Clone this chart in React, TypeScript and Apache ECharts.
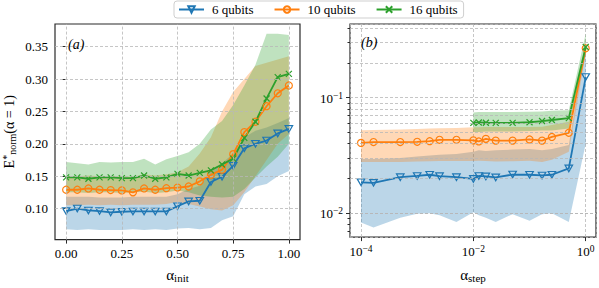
import React, { useEffect, useRef } from 'react';
import * as echarts from 'echarts';

const BLUE = '#1f77b4';
const ORANGE = '#ff7f0e';
const GREEN = '#2ca02c';
const FONT = 'Liberation Serif';

const seriesNames = ['6 qubits', '10 qubits', '16 qubits'];

// ---------- panel (a): alpha_init ----------
const alphaInit = [0, 0.05, 0.1, 0.15, 0.2, 0.25, 0.3, 0.35, 0.4, 0.45, 0.5, 0.55, 0.6, 0.65, 0.7, 0.75, 0.8, 0.85, 0.9, 0.95, 1.0];
const initMean6 = [0.096, 0.100, 0.097, 0.096, 0.094, 0.095, 0.0955, 0.0955, 0.0955, 0.0955, 0.1035, 0.111, 0.112, 0.141, 0.149, 0.166, 0.193, 0.200, 0.205, 0.216, 0.223];
const initLow6 = [0.068, 0.067, 0.068, 0.067, 0.067, 0.067, 0.068, 0.067, 0.068, 0.067, 0.069, 0.070, 0.068, 0.070, 0.082, 0.088, 0.122, 0.134, 0.138, 0.150, 0.158];
const initHigh6 = [0.118, 0.118, 0.118, 0.117, 0.117, 0.117, 0.118, 0.118, 0.118, 0.118, 0.122, 0.130, 0.135, 0.160, 0.170, 0.185, 0.210, 0.220, 0.225, 0.232, 0.240];
const initMean10 = [0.129, 0.129, 0.131, 0.129, 0.1285, 0.128, 0.125, 0.131, 0.129, 0.1314, 0.1324, 0.134, 0.142, 0.152, 0.160, 0.184, 0.218, 0.234, 0.258, 0.278, 0.290];
const initLow10 = [0.105, 0.105, 0.106, 0.105, 0.106, 0.105, 0.106, 0.106, 0.106, 0.107, 0.110, 0.107, 0.103, 0.099, 0.097, 0.105, 0.125, 0.150, 0.175, 0.200, 0.215];
const initHigh10 = [0.150, 0.150, 0.151, 0.150, 0.150, 0.150, 0.149, 0.153, 0.151, 0.153, 0.156, 0.165, 0.185, 0.210, 0.250, 0.280, 0.300, 0.320, 0.325, 0.330, 0.335];
const initMean16 = [0.148, 0.148, 0.146, 0.148, 0.148, 0.147, 0.147, 0.151, 0.146, 0.148, 0.1535, 0.151, 0.155, 0.159, 0.168, 0.177, 0.209, 0.234, 0.270, 0.303, 0.308];
const initLow16 = [0.125, 0.125, 0.124, 0.125, 0.125, 0.124, 0.125, 0.126, 0.124, 0.125, 0.128, 0.125, 0.120, 0.118, 0.117, 0.118, 0.130, 0.148, 0.165, 0.180, 0.200];
const initHigh16 = [0.172, 0.170, 0.168, 0.172, 0.171, 0.172, 0.172, 0.177, 0.168, 0.176, 0.181, 0.187, 0.200, 0.222, 0.235, 0.260, 0.290, 0.322, 0.370, 0.370, 0.368];

const initXTicks = [0, 0.25, 0.5, 0.75, 1.0];
const initYTicks = [0.10, 0.15, 0.20, 0.25, 0.30, 0.35];

// ---------- panel (b): alpha_step ----------
const alphaStep = [0.0001, 0.000167, 0.0005, 0.001, 0.00167, 0.0025, 0.005, 0.01, 0.0125, 0.0167, 0.025, 0.05, 0.1, 0.167, 0.25, 0.5, 1.0];
const stepMean6 = [0.0185, 0.0183, 0.0205, 0.021, 0.0215, 0.0209, 0.0205, 0.0198, 0.021, 0.0208, 0.0204, 0.0216, 0.0215, 0.0212, 0.0215, 0.0244, 0.151];
const stepLow6 = [0.0083, 0.0075, 0.0091, 0.0099, 0.0100, 0.0096, 0.0084, 0.0102, 0.0096, 0.0091, 0.0084, 0.0098, 0.0086, 0.0098, 0.0100, 0.0084, 0.040];
const stepHigh6 = [0.0295, 0.0295, 0.030, 0.031, 0.0315, 0.032, 0.0325, 0.034, 0.035, 0.0345, 0.035, 0.0355, 0.036, 0.035, 0.036, 0.039, 0.30];
const stepMean10 = [0.0406, 0.0413, 0.0413, 0.0415, 0.042, 0.0432, 0.0432, 0.0427, 0.0418, 0.044, 0.0425, 0.0425, 0.0435, 0.0425, 0.0457, 0.0497, 0.268];
const stepLow10 = [0.0277, 0.0277, 0.0278, 0.028, 0.0282, 0.0283, 0.0283, 0.0283, 0.0285, 0.0283, 0.028, 0.0282, 0.0285, 0.0278, 0.029, 0.034, 0.24];
const stepHigh10 = [0.0523, 0.0525, 0.053, 0.0535, 0.054, 0.0545, 0.0547, 0.0555, 0.0555, 0.0557, 0.0557, 0.0557, 0.0557, 0.056, 0.058, 0.062, 0.30];
const alphaStep16 = [0.01, 0.0125, 0.0167, 0.025, 0.05, 0.1, 0.167, 0.25, 0.5, 1.0];
const stepMean16 = [0.0605, 0.061, 0.0607, 0.0605, 0.0605, 0.0613, 0.0628, 0.0641, 0.0666, 0.275];
const stepLow16 = [0.0505, 0.0505, 0.051, 0.051, 0.051, 0.0515, 0.052, 0.052, 0.054, 0.25];
const stepHigh16 = [0.0745, 0.075, 0.0752, 0.075, 0.0752, 0.0755, 0.076, 0.077, 0.078, 0.36];

const stepYMinor = [0.007, 0.008, 0.009, 0.02, 0.03, 0.04, 0.05, 0.06, 0.07, 0.08, 0.09, 0.2, 0.3, 0.4];

const GRID_LINE = { color: '#b8b8b8', width: 0.8, type: [3, 2] as number[] };
const TICK_STYLE = { color: '#2a2a2a', width: 1 };

const TRI_DOWN = 'path://M0,0L10,0L5,8.66Z';
const X_MARK = 'path://M0,0L10,10M10,0L0,10';

function band(xs: number[], lo: number[], hi: number[], fill: string, xi: number, yi: number) {
  return {
    type: 'custom',
    xAxisIndex: xi,
    yAxisIndex: yi,
    silent: true,
    z: 1,
    data: [[xs[0], lo[0]]],
    renderItem: (_p: any, api: any) => {
      const pts: number[][] = [];
      for (let i = 0; i < xs.length; i++) pts.push(api.coord([xs[i], hi[i]]));
      for (let i = xs.length - 1; i >= 0; i--) pts.push(api.coord([xs[i], lo[i]]));
      return { type: 'polygon', shape: { points: pts }, style: { fill } };
    },
  };
}

function line(name: string, xs: number[], ys: number[], color: string, symbol: string, size: any, xi: number, yi: number) {
  return {
    type: 'line',
    name,
    xAxisIndex: xi,
    yAxisIndex: yi,
    data: xs.map((x, i) => [x, ys[i]]),
    symbol,
    symbolSize: size,
    showAllSymbol: true,
    z: 3,
    lineStyle: { color, width: 1.8 },
    itemStyle: { color: 'rgba(255,255,255,0)', borderColor: color, borderWidth: 1.2 },
    emphasis: { disabled: true },
  };
}

const richTick = {
  b: { fontFamily: FONT, fontSize: 13, color: '#000', lineHeight: 14, verticalAlign: 'bottom' },
  sup: { fontFamily: FONT, fontSize: 9.5, color: '#000', lineHeight: 10, padding: [0, 0, 6, 0], verticalAlign: 'top' },
  t: { fontFamily: FONT, fontSize: 13, color: '#000', lineHeight: 14 },
};

function powLabel(v: number) {
  const l = Math.log10(v);
  const e = Math.round(l);
  if (Math.abs(l - e) > 1e-6) return '';
  return `{b|10}{sup|${e < 0 ? '\u2212' + -e : e}}`;
}
const decLabel = (v: number) => `{t|${v.toFixed(2)}}`;

const subName = {
  a: { fontFamily: FONT, fontSize: 15, color: '#000', lineHeight: 16, verticalAlign: 'top' },
  s: { fontFamily: FONT, fontSize: 11, color: '#000', lineHeight: 11, padding: [7, 0, 0, 0], verticalAlign: 'bottom' },
};

export default function App() {
  const ref = useRef<HTMLDivElement>(null);
  useEffect(() => {
    if (!ref.current) return;
    const chart = echarts.init(ref.current, undefined, { renderer: 'svg' });
    const option: any = {
      animation: false,
      backgroundColor: '#fff',
      textStyle: { fontFamily: FONT },
      legend: {
        data: seriesNames,
        left: 174,
        top: 1,
        padding: [2, 6, 2, 4],
        itemGap: 20,
        itemWidth: 25,
        itemHeight: 8,
        borderColor: '#cfcfcf',
        borderWidth: 1,
        borderRadius: 3,
        backgroundColor: '#fff',
        formatter: (n: string) => `{t|${n}}`,
        textStyle: {
          fontFamily: FONT, fontSize: 13, color: '#000',
          rich: { t: { fontFamily: FONT, fontSize: 13, color: '#000', padding: [0, 0, 0, 3] } },
        },
      },
      grid: [
        { left: 54, top: 24, width: 246, height: 223, show: true, borderColor: '#2a2a2a', borderWidth: 1.2, backgroundColor: 'transparent' },
        { left: 350, top: 24, width: 246, height: 223, show: true, borderColor: '#2a2a2a', borderWidth: 1.2, backgroundColor: 'transparent' },
      ],
      xAxis: [
        {
          type: 'value', gridIndex: 0, min: -0.05, max: 1.05,
          axisLine: { show: false }, splitLine: { show: false },
          axisTick: { customValues: initXTicks, length: 4, lineStyle: TICK_STYLE },
          axisLabel: { customValues: initXTicks, formatter: decLabel, rich: richTick, margin: 7 },
          name: '{a|\u03b1}{s|init}', nameLocation: 'middle', nameGap: 26,
          nameTextStyle: { rich: subName },
        },
        {
          type: 'log', logBase: 100, gridIndex: 1, min: 0.0000637, max: 1.524,
          axisLine: { show: false },
          splitLine: { show: true, lineStyle: GRID_LINE },
          axisTick: { length: 4, lineStyle: TICK_STYLE },
          axisLabel: { formatter: powLabel, rich: richTick, margin: 7, showMinLabel: false, showMaxLabel: false },
          name: '{a|\u03b1}{s|step}', nameLocation: 'middle', nameGap: 26,
          nameTextStyle: { rich: subName },
        },
      ],
      yAxis: [
        {
          type: 'value', gridIndex: 0, min: 0.052, max: 0.385,
          axisLine: { show: false }, splitLine: { show: false },
          axisTick: { customValues: initYTicks, length: 4, lineStyle: TICK_STYLE },
          axisLabel: { customValues: initYTicks, formatter: decLabel, rich: richTick, margin: 7 },
          name: '{e|E}{sup|*}{sub|norm}{e|(\u03b1 = 1)}', nameLocation: 'middle', nameGap: 38, nameRotate: 90,
          nameTextStyle: {
            rich: {
              e: { fontFamily: FONT, fontSize: 14, color: '#000', lineHeight: 16, verticalAlign: 'middle' },
              sup: { fontFamily: FONT, fontSize: 10, color: '#000', lineHeight: 10, padding: [0, 0, 7, 0], verticalAlign: 'top' },
              sub: { fontFamily: FONT, fontSize: 10, color: '#000', lineHeight: 10, padding: [6, 0, 0, 0], verticalAlign: 'bottom' },
            },
          },
        },
        {
          type: 'log', logBase: 10, gridIndex: 1, min: 0.0062, max: 0.435, position: 'left',
          axisLine: { show: false },
          splitLine: { show: true, lineStyle: GRID_LINE },
          axisTick: { length: 4, lineStyle: TICK_STYLE },
          axisLabel: { formatter: powLabel, rich: richTick, margin: 7, showMinLabel: false, showMaxLabel: false },
        },
        {
          type: 'log', logBase: 10, gridIndex: 1, min: 0.0062, max: 0.435, position: 'left', offset: 0,
          axisLine: { show: false }, splitLine: { show: false },
          axisLabel: { show: false },
          axisTick: { customValues: stepYMinor, length: 2.5, lineStyle: TICK_STYLE },
        },
      ],
      graphic: [
        { type: 'text', x: 68, y: 44, style: { text: '(a)', fontFamily: FONT, fontStyle: 'italic', fontSize: 14, fill: '#000', align: 'left', verticalAlign: 'middle' }, z: 10 },
        { type: 'text', x: 361, y: 42, style: { text: '(b)', fontFamily: FONT, fontStyle: 'italic', fontSize: 14, fill: '#000', align: 'left', verticalAlign: 'middle' }, z: 10 },
      ],
      series: [
        {
          type: 'line', xAxisIndex: 0, yAxisIndex: 0, data: [[0, 0.1]], symbol: 'none', lineStyle: { width: 0 }, z: 0, silent: true,
          markLine: {
            silent: true, symbol: ['none', 'none'], label: { show: false }, lineStyle: GRID_LINE,
            data: [...initXTicks.map((v) => ({ xAxis: v })), ...initYTicks.map((v) => ({ yAxis: v }))],
          },
        },
        {
          type: 'line', xAxisIndex: 1, yAxisIndex: 1, data: [[0.01, 0.02]], symbol: 'none', lineStyle: { width: 0 }, z: 0, silent: true,
          markLine: {
            silent: true, symbol: ['none', 'none'], label: { show: false }, lineStyle: GRID_LINE,
            data: stepYMinor.map((v) => ({ yAxis: v })),
          },
        },
        band(alphaInit, initLow6, initHigh6, 'rgba(31,119,180,0.3)', 0, 0),
        band(alphaInit, initLow10, initHigh10, 'rgba(255,127,14,0.3)', 0, 0),
        band(alphaInit, initLow16, initHigh16, 'rgba(44,160,44,0.3)', 0, 0),
        band(alphaStep, stepLow6, stepHigh6, 'rgba(31,119,180,0.3)', 1, 1),
        band(alphaStep, stepLow10, stepHigh10, 'rgba(255,127,14,0.3)', 1, 1),
        band(alphaStep16, stepLow16, stepHigh16, 'rgba(44,160,44,0.3)', 1, 1),
        line(seriesNames[0], alphaInit, initMean6, BLUE, TRI_DOWN, [7.5, 6.5], 0, 0),
        line(seriesNames[1], alphaInit, initMean10, ORANGE, 'circle', 7, 0, 0),
        line(seriesNames[2], alphaInit, initMean16, GREEN, X_MARK, 6, 0, 0),
        line(seriesNames[0], alphaStep, stepMean6, BLUE, TRI_DOWN, [7.5, 6.5], 1, 1),
        line(seriesNames[1], alphaStep, stepMean10, ORANGE, 'circle', 7, 1, 1),
        line(seriesNames[2], alphaStep16, stepMean16, GREEN, X_MARK, 6, 1, 1),
      ],
    };
    chart.setOption(option);
    return () => chart.dispose();
  }, []);
  return <div ref={ref} style={{ width: 599, height: 288, position: 'absolute', left: 0, top: 0 }} />;
}
